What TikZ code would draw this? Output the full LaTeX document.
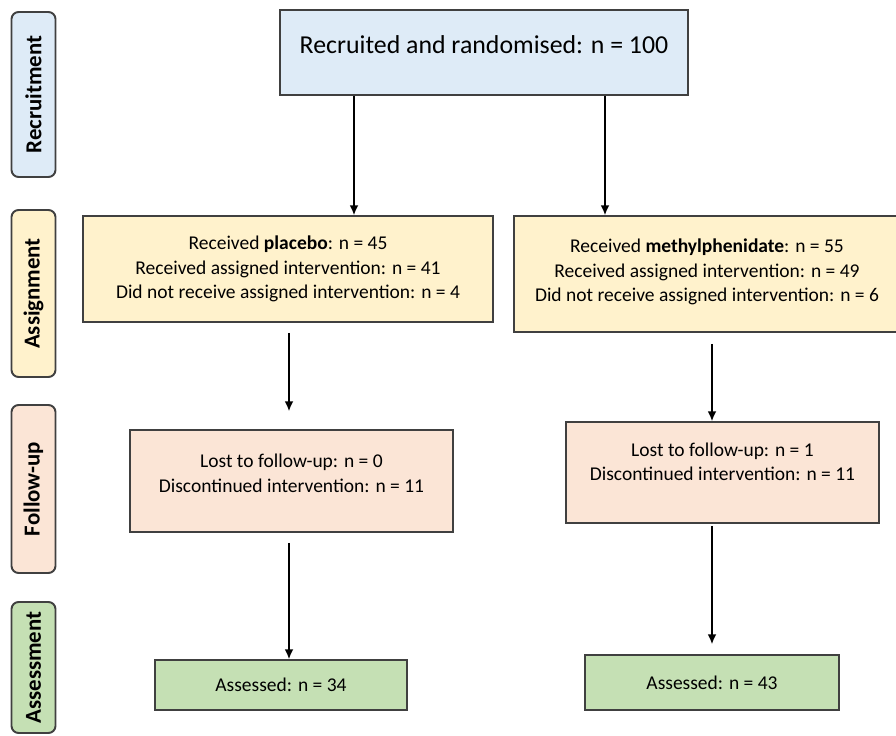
\documentclass[tikz,border=0pt]{standalone}
\usepackage{fontspec}
\setmainfont{Carlito}
\usetikzlibrary{arrows.meta}
\usetikzlibrary{positioning}
\definecolor{recblue}{HTML}{DEEBF7}
\definecolor{asgyellow}{HTML}{FFF2CC}
\definecolor{fupink}{HTML}{FBE5D6}
\definecolor{assgreen}{HTML}{C5E0B4}
\definecolor{boxline}{HTML}{404040}
\newcommand{\dropdepth}[1]{\rule[-#1]{0pt}{0pt}}
\tikzset{stage/.style = {draw=boxline, line width=1.1pt, rounded corners=4pt,
                         rotate=90, minimum height=0.88cm, inner sep=0pt,
                         font=\bfseries\fontsize{13}{15}\selectfont},
         flowbox/.style = {draw=boxline, line width=1.1pt, align=center, inner sep=0pt,
                           font=\fontsize{11.1}{13.9}\selectfont},
         flow/.style = {-{Latex[length=5.5pt,width=5pt]}, line width=0.8pt}}

\begin{document}
\begin{tikzpicture}[x=0.02cm, y=-0.02cm]
      \useasboundingbox (0, 0) rectangle (896, 736);

      % stage labels on the left
      \node [stage, fill=recblue, minimum width=3.3cm] (srec) at (33.5, 94.5) {Recruitment};
      \node [stage, fill=asgyellow, minimum width=3.34cm] (sasg) at (33.5, 293.5) {Assignment};
      \node [stage, fill=fupink, minimum width=3.36cm] (sfu) at (33.5, 489) {Follow-up};
      \node [stage, fill=assgreen, minimum width=2.62cm] (sass) at (33.5, 667.5) {Assessment};

      % boxes
      \node [flowbox, fill=recblue, minimum width=8.16cm, minimum height=1.7cm,
             font=\fontsize{14.7}{17}\selectfont] (recruit) at (484, 52.5)
            {Recruited and randomised: n = 100\dropdepth{9.6pt}};
      \node [flowbox, fill=asgyellow, minimum width=8.2cm, minimum height=2.12cm] (placebo) at (288, 269)
            {Received \textbf{placebo}: n = 45\\
             Received assigned intervention: n = 41\\
             Did not receive assigned intervention: n = 4\dropdepth{1.5pt}};
      \node [flowbox, fill=asgyellow, minimum width=7.72cm, minimum height=2.32cm] (mph) at (707, 274)
            {Received \textbf{methylphenidate}: n = 55\\
             Received assigned intervention: n = 49\\
             Did not receive assigned intervention: n = 6\dropdepth{4pt}};
      \node [flowbox, fill=fupink, minimum width=6.46cm, minimum height=2.04cm] (fuL) at (291.5, 481)
            {Lost to follow-up: n = 0\\
             Discontinued intervention: n = 11\dropdepth{9pt}};
      \node [flowbox, fill=fupink, minimum width=6.26cm, minimum height=2.02cm] (fuR) at (722.5, 472.5)
            {Lost to follow-up: n = 1\\
             Discontinued intervention: n = 11\dropdepth{12pt}};
      \node [flowbox, fill=assgreen, minimum width=5.04cm, minimum height=1cm] (assL) at (281, 685)
            {Assessed: n = 34};
      \node [flowbox, fill=assgreen, minimum width=5.08cm, minimum height=1.1cm] (assR) at (712, 682.5)
            {Assessed: n = 43};

      % arrows
      \draw [flow] (recruit.south -| 354, 0) -- (placebo.north -| 354, 0);
      \draw [flow] (recruit.south -| 605, 0) -- (mph.north -| 605, 0);
      \draw [flow, shorten <=0.2cm, shorten >=0.36cm] (placebo.south -| 289, 0) -- (fuL.north -| 289, 0);
      \draw [flow, shorten <=0.22cm] (mph.south -| 712, 0) -- (fuR.north -| 712, 0);
      \draw [flow, shorten <=0.2cm] (fuL.south -| 289, 0) -- (assL.north -| 289, 0);
      \draw [flow, shorten <=0.04cm, shorten >=0.2cm] (fuR.south -| 712, 0) -- (assR.north -| 712, 0);
\end{tikzpicture}
\end{document}
